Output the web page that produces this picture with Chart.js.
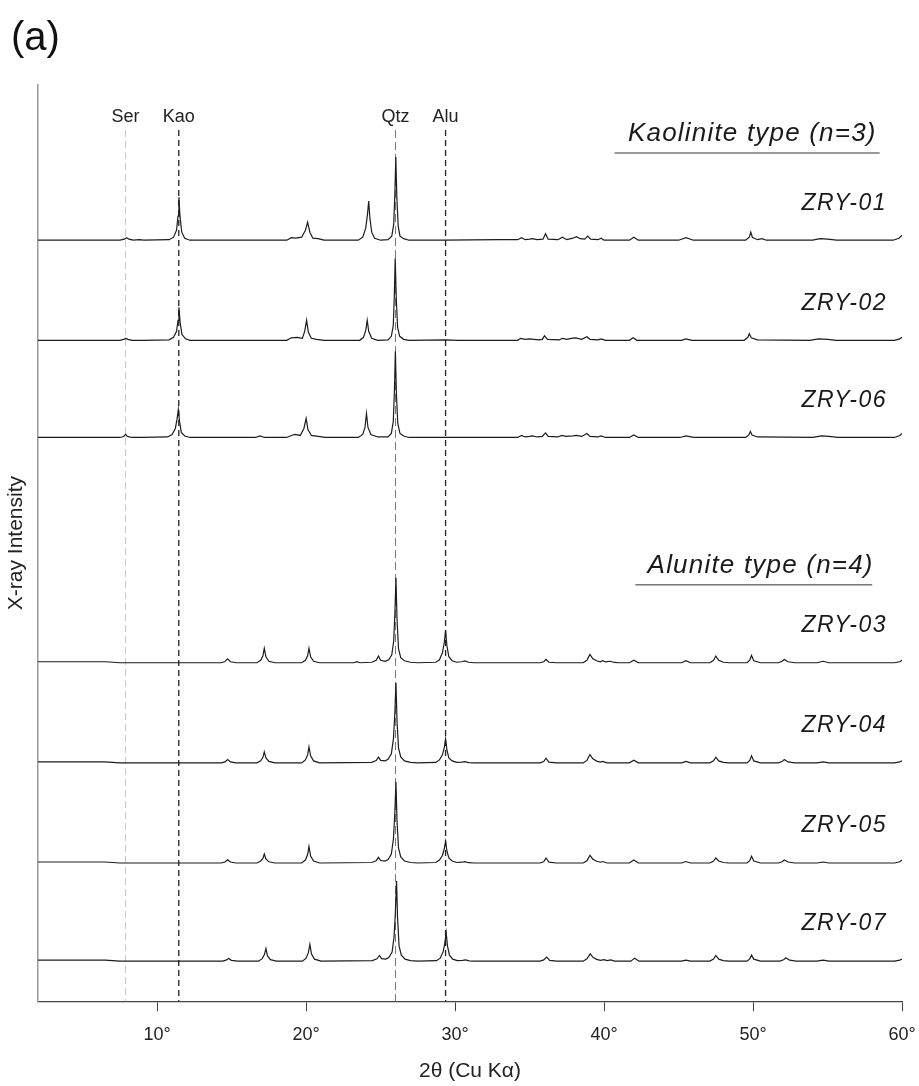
<!DOCTYPE html>
<html>
<head>
<meta charset="utf-8">
<title>XRD patterns</title>
<script src="https://cdn.jsdelivr.net/npm/chart.js@4.4.1/dist/chart.umd.min.js"></script>
<style>
  html, body { margin: 0; padding: 0; background: #fff; }
  #wrap { width: 919px; height: 1086px; position: relative; }
</style>
</head>
<body>
<div id="wrap"><canvas id="xrdChart"></canvas></div>
<script>
// 2θ tick labels (degrees)
const xTicks = [10, 20, 30, 40, 50, 60];

// mineral reference lines: name, 2θ
const refNames = ['Ser', 'Kao', 'Qtz', 'Alu'];
const refAngles = [7.88, 11.45, 26.0, 29.36];

// sample names, top to bottom
const kaoSamples = ['ZRY-01', 'ZRY-02', 'ZRY-06'];
const aluSamples = ['ZRY-03', 'ZRY-04', 'ZRY-05', 'ZRY-07'];

// diffractograms: [2θ, intensity above background] (arb. units)
const zry01 = [
  [2, 0], [7.5, 0], [7.8, 1], [7.95, 2.5], [8.1, 1], [8.4, 0], [8.8, 0.6], [9.1, 0],
  [10.8, 0.5], [11.1, 3], [11.3, 10], [11.4, 24], [11.46, 43], [11.53, 24], [11.65, 8], [11.85, 2], [12.2, 0],
  [18.7, 0], [19.0, 2.5], [19.3, 2], [19.7, 3], [19.95, 10], [20.1, 18], [20.25, 8], [20.45, 2], [20.8, 1.5], [21.2, 0],
  [23.5, 0], [23.8, 3], [24.0, 12], [24.12, 26], [24.2, 39], [24.28, 22], [24.4, 8], [24.6, 2], [25.0, 0],
  [25.5, 0.5], [25.75, 4], [25.88, 16], [25.96, 48], [26.02, 83], [26.09, 42], [26.18, 14], [26.3, 4], [26.55, 1.5], [26.9, 0],
  [29.3, 0], [33.0, 0.5], [34.2, 0.5], [34.46, 2.5], [34.7, 0.5], [35.0, 1], [35.2, 1.5], [35.5, 0.5], [35.9, 1],
  [36.07, 6.5], [36.25, 1], [36.9, 0.5], [37.2, 3], [37.5, 0.5], [37.9, 2], [38.15, 3.5], [38.4, 1.5], [38.7, 1],
  [38.9, 4], [39.1, 1], [39.6, 0.5], [39.8, 2], [40.0, 0], [41.7, 0], [42.0, 3], [42.3, 0], [45.0, 0], [45.5, 2.5],
  [46.0, 0], [49.5, 0], [49.75, 3], [49.85, 8], [49.95, 3], [50.3, 0.5], [50.6, 1.5], [50.9, 0], [54.0, 0],
  [54.5, 1.5], [55.0, 1], [55.6, 0], [59.4, 0], [59.8, 2], [60, 5]
];
const zry02 = [
  [2, 0], [7.5, 0], [7.75, 1], [7.9, 2], [8.05, 1], [8.3, 0], [9, 0],
  [10.8, 0.5], [11.1, 3], [11.3, 9], [11.4, 20], [11.46, 33], [11.54, 18], [11.66, 6], [11.9, 1.5], [12.2, 0],
  [18.7, 0], [19.0, 2.5], [19.4, 3], [19.75, 2], [19.9, 9], [20.03, 20], [20.15, 8], [20.35, 2], [20.7, 1], [21.2, 0],
  [23.6, 0], [23.85, 3], [24.0, 10], [24.1, 20], [24.2, 9], [24.4, 2], [24.8, 0],
  [25.5, 0.5], [25.72, 4], [25.85, 15], [25.92, 45], [25.98, 82], [26.05, 42], [26.14, 13], [26.28, 4], [26.55, 1], [26.9, 0],
  [29.36, 0.5], [30.2, 0], [34.2, 0], [34.4, 2], [34.7, 1], [35.0, 1.5], [35.3, 1], [35.6, 0.5], [35.85, 1],
  [36.0, 4.5], [36.2, 1], [37.0, 0.5], [37.2, 2], [37.5, 1], [37.8, 2], [38.1, 2.5], [38.5, 1], [38.85, 3.5],
  [39.05, 1], [39.6, 0.5], [39.8, 1.5], [40.1, 0], [41.7, 0], [41.95, 2.5], [42.2, 0], [45.2, 0], [45.5, 1.5],
  [45.9, 0], [49.4, 0], [49.65, 3], [49.75, 6.5], [49.88, 2.5], [50.3, 0.5], [53.8, 0], [54.4, 1.5], [55.0, 1],
  [55.6, 0], [59.5, 0], [59.85, 1.5], [60, 3]
];
const zry06 = [
  [2, 0], [7.5, 0], [7.75, 1], [7.88, 3], [8.0, 1], [8.3, 0], [9, 0],
  [10.7, 0.5], [11.0, 3], [11.22, 9], [11.33, 18], [11.42, 28], [11.5, 16], [11.62, 5], [11.85, 1.5], [12.2, 0],
  [16.6, 0], [16.9, 1.5], [17.2, 0], [18.7, 0], [19.0, 2], [19.25, 3], [19.6, 2], [19.85, 9], [20.0, 19], [20.12, 8],
  [20.35, 2], [20.8, 1], [21.3, 0],
  [23.5, 0], [23.8, 3], [23.95, 10], [24.05, 24], [24.15, 10], [24.35, 3], [24.8, 0.5],
  [25.5, 0.5], [25.72, 4], [25.85, 16], [25.93, 48], [25.99, 86], [26.06, 44], [26.15, 14], [26.3, 4], [26.55, 1.5], [26.9, 0],
  [30, 0], [34.2, 0], [34.46, 2], [34.7, 0.5], [35.0, 1], [35.2, 1.5], [35.5, 0.5], [35.85, 1], [36.07, 4.5],
  [36.25, 1], [36.9, 0.5], [37.15, 2], [37.45, 1], [37.9, 1.5], [38.15, 2], [38.5, 1], [38.85, 4], [39.05, 1],
  [39.6, 0.5], [39.8, 1.5], [40.1, 0], [41.7, 0], [42.0, 2.5], [42.3, 0], [45.1, 0], [45.5, 1.5], [46.0, 0],
  [49.5, 0], [49.72, 2.5], [49.82, 6], [49.93, 2.5], [50.3, 0.5], [54.0, 0], [54.6, 1.5], [55.1, 1], [55.7, 0],
  [59.5, 0], [59.85, 2], [60, 4]
];
const zry03 = [
  [2, 1], [6.5, 1], [7.5, 0], [14.3, 0], [14.55, 1.2], [14.73, 4], [14.92, 1], [15.3, 0],
  [16.7, 0], [16.95, 2.5], [17.1, 7], [17.19, 14.5], [17.3, 6], [17.5, 1.5], [17.9, 0],
  [19.7, 0], [19.95, 2.5], [20.1, 7], [20.19, 14.5], [20.3, 6], [20.5, 1.5], [20.9, 0],
  [23.2, 0], [23.4, 1], [23.6, 0], [24.4, 0.5], [24.7, 2.5], [24.86, 6.7], [25.0, 2.5], [25.3, 1.5],
  [25.55, 3], [25.75, 8], [25.88, 22], [25.96, 50], [26.03, 85], [26.1, 44], [26.2, 14], [26.35, 5], [26.6, 2], [27.0, 0.5], [27.5, 0],
  [28.7, 0.5], [28.95, 3], [29.15, 10], [29.27, 20], [29.36, 32], [29.45, 17], [29.58, 6], [29.8, 2], [30.1, 0.5],
  [30.45, 1], [30.66, 1.8], [30.9, 0.5], [31.3, 0],
  [35.7, 0], [35.95, 1], [36.1, 3.3], [36.3, 0.5], [36.8, 0], [38.6, 0], [38.85, 2.5], [39.05, 8.3], [39.25, 4],
  [39.5, 2], [39.75, 1], [39.9, 2], [40.1, 0.8], [40.4, 1.5], [40.7, 0.3], [41.0, 0], [41.7, 0], [42.0, 2.5],
  [42.3, 0], [45.2, 0], [45.5, 2], [45.8, 0], [47.1, 0], [47.35, 2.5], [47.5, 6.7], [47.7, 2.5], [48.0, 0.5],
  [48.4, 0], [49.6, 0], [49.78, 2.5], [49.9, 7.3], [50.05, 2], [50.5, 0], [51.7, 0], [51.95, 1.5], [52.1, 3.3],
  [52.35, 1], [52.8, 0], [54.3, 0], [54.7, 1.5], [55.1, 0], [59.5, 0], [59.85, 1], [60, 2.5]
];
const zry04 = [
  [2, 1], [6.5, 1], [7.5, 0], [14.3, 0], [14.55, 1], [14.73, 3.3], [14.92, 1], [15.3, 0],
  [16.7, 0], [16.95, 2], [17.1, 5.5], [17.19, 11], [17.3, 5], [17.5, 1.5], [17.9, 0],
  [19.7, 0], [19.95, 3], [20.1, 8], [20.19, 16], [20.3, 7], [20.5, 2], [20.9, 0],
  [24.4, 0.5], [24.7, 2.3], [24.86, 5.7], [25.0, 2.5], [25.3, 2],
  [25.5, 3.5], [25.72, 9], [25.86, 24], [25.95, 48], [26.03, 80], [26.1, 42], [26.2, 15], [26.35, 6], [26.6, 2], [27.0, 0.5], [27.5, 0],
  [28.7, 0.5], [28.95, 3], [29.15, 8], [29.27, 15], [29.36, 24], [29.45, 13], [29.58, 5], [29.8, 2], [30.1, 0.5],
  [30.45, 0.8], [30.66, 1.3], [30.9, 0.3], [31.3, 0],
  [35.7, 0], [35.95, 1.3], [36.1, 4.7], [36.3, 0.8], [36.8, 0], [38.6, 0], [38.85, 2.5], [39.05, 8.3], [39.25, 4],
  [39.5, 1.8], [39.75, 0.8], [39.9, 1.5], [40.2, 0], [41.7, 0], [42.0, 2.7], [42.3, 0], [45.2, 0], [45.5, 1.5],
  [45.8, 0], [47.1, 0], [47.35, 2], [47.5, 5.7], [47.7, 2], [48.0, 0.5], [48.4, 0], [49.6, 0], [49.78, 2.5],
  [49.9, 7], [50.05, 2], [50.5, 0], [51.7, 0], [51.95, 1.3], [52.1, 3.3], [52.35, 1], [52.8, 0], [54.3, 0],
  [54.7, 1], [55.1, 0], [59.5, 0], [59.85, 1], [60, 2]
];
const zry05 = [
  [2, 1], [6.5, 1], [7.5, 0], [14.3, 0], [14.55, 1], [14.73, 3.3], [14.92, 1], [15.3, 0],
  [16.7, 0], [16.95, 2], [17.1, 4.5], [17.19, 9], [17.3, 4], [17.5, 1.2], [17.9, 0],
  [19.7, 0], [19.95, 3], [20.1, 8.5], [20.19, 16.7], [20.3, 7], [20.5, 2], [20.9, 0],
  [24.4, 0.5], [24.7, 2.3], [24.86, 5.7], [25.0, 2.5], [25.3, 2],
  [25.5, 3.5], [25.72, 9], [25.86, 24], [25.95, 49], [26.03, 81], [26.1, 42], [26.2, 15], [26.35, 6], [26.6, 2], [27.0, 0.5], [27.5, 0],
  [28.7, 0.5], [28.95, 3], [29.15, 7.5], [29.27, 14], [29.36, 21.7], [29.45, 12], [29.58, 5], [29.8, 2], [30.1, 0.5],
  [30.45, 0.8], [30.66, 1.3], [30.9, 0.3], [31.3, 0],
  [35.7, 0], [35.95, 1.3], [36.1, 5], [36.3, 0.8], [36.8, 0], [38.6, 0], [38.85, 2.3], [39.05, 7.7], [39.25, 3.8],
  [39.5, 1.8], [39.75, 0.8], [39.9, 1.5], [40.2, 0], [41.7, 0], [42.0, 3], [42.3, 0], [45.2, 0], [45.5, 1.5],
  [45.8, 0], [47.1, 0], [47.35, 2], [47.5, 5], [47.7, 2], [48.0, 0.5], [48.4, 0], [49.6, 0], [49.78, 2.3],
  [49.9, 6.7], [50.05, 2], [50.5, 0], [51.7, 0], [51.95, 1.2], [52.1, 3], [52.35, 1], [52.8, 0], [54.3, 0],
  [54.7, 1], [55.1, 0], [59.5, 0], [59.85, 1.2], [60, 3]
];
const zry07 = [
  [2, 1], [6.5, 1], [7.5, 0], [14.4, 0], [14.62, 1], [14.8, 2.7], [14.98, 0.8], [15.4, 0],
  [16.8, 0], [17.05, 2.5], [17.2, 6.5], [17.3, 12.7], [17.4, 5.5], [17.6, 1.5], [18.0, 0],
  [19.75, 0], [20.0, 3], [20.15, 8.5], [20.25, 16.7], [20.36, 7], [20.56, 2], [21.0, 0],
  [24.45, 0.5], [24.75, 2.3], [24.92, 5.7], [25.06, 2.5], [25.35, 2],
  [25.55, 3.5], [25.77, 9], [25.9, 24], [25.99, 48], [26.07, 80], [26.14, 42], [26.24, 15], [26.39, 6], [26.64, 2], [27.0, 0.5], [27.5, 0],
  [28.75, 0.5], [29.0, 3], [29.2, 9.5], [29.31, 18], [29.4, 28.3], [29.49, 15], [29.62, 6], [29.84, 2], [30.15, 0.5],
  [30.5, 0.8], [30.7, 1.3], [30.95, 0.3], [31.3, 0],
  [35.7, 0], [35.95, 1.2], [36.15, 4], [36.35, 0.8], [36.8, 0], [38.6, 0], [38.85, 2.3], [39.07, 7.3], [39.27, 3.6],
  [39.5, 1.8], [39.75, 0.8], [40.0, 1.5], [40.2, 0.5], [40.45, 1.2], [40.7, 0], [41.8, 0], [42.05, 3], [42.35, 0],
  [45.2, 0], [45.5, 1], [45.8, 0], [47.1, 0], [47.35, 2], [47.5, 5.7], [47.7, 2], [48.0, 0.5], [48.4, 0],
  [49.6, 0], [49.78, 2.2], [49.9, 6], [50.05, 2], [50.5, 0], [51.8, 0], [52.05, 1.3], [52.2, 3.3], [52.45, 1],
  [52.9, 0], [54.3, 0], [54.7, 1], [55.1, 0], [59.5, 0], [59.85, 1], [60, 2]
];

const patterns = {
  'ZRY-01': zry01, 'ZRY-02': zry02, 'ZRY-06': zry06,
  'ZRY-03': zry03, 'ZRY-04': zry04, 'ZRY-05': zry05, 'ZRY-07': zry07
};

// vertical stacking of the traces (y units)
const traceOffsets = {
  'ZRY-01': 760, 'ZRY-02': 660, 'ZRY-06': 563,
  'ZRY-03': 338, 'ZRY-04': 238, 'ZRY-05': 138, 'ZRY-07': 40
};

const FONT = '"Liberation Sans", Arial, sans-serif';
const yTop = 915;
const refLineTop = 870;
const nameLift = 37;

const datasets = kaoSamples.concat(aluSamples).map(name => ({
  label: name,
  data: patterns[name].map(p => ({ x: p[0], y: p[1] + traceOffsets[name] })),
  borderColor: '#1c1c1c',
  borderWidth: 1.2,
  pointRadius: 0,
  tension: 0,
  fill: false
}));

// dashed mineral lines, sample names and group headings
const annotations = {
  id: 'annotations',
  beforeDatasetsDraw(chart) {
    const { ctx, scales: { x, y }, chartArea } = chart;
    const styles = {
      Ser: { color: '#c4c4c4', dash: [7, 4], width: 1 },
      Kao: { color: '#222', dash: [6, 4], width: 1.3 },
      Qtz: { color: '#777', dash: [8, 4], width: 1 },
      Alu: { color: '#222', dash: [6, 4], width: 1.3 }
    };
    ctx.save();
    refNames.forEach((name, i) => {
      const px = x.getPixelForValue(refAngles[i]);
      const s = styles[name];
      ctx.strokeStyle = s.color;
      ctx.lineWidth = s.width;
      ctx.setLineDash(s.dash);
      ctx.beginPath();
      ctx.moveTo(px, y.getPixelForValue(refLineTop));
      ctx.lineTo(px, chartArea.bottom);
      ctx.stroke();
    });
    ctx.setLineDash([]);
    ctx.fillStyle = '#222';
    ctx.font = '18px ' + FONT;
    ctx.textAlign = 'center';
    ctx.textBaseline = 'middle';
    refNames.forEach((name, i) => {
      ctx.fillText(name, x.getPixelForValue(refAngles[i]), y.getPixelForValue(refLineTop + 13));
    });
    ctx.restore();
  },
  afterDraw(chart) {
    const { ctx, scales: { x, y } } = chart;
    ctx.save();
    ctx.fillStyle = '#1a1a1a';
    ctx.textAlign = 'right';
    ctx.textBaseline = 'middle';
    ctx.font = 'italic 23px ' + FONT;
    ctx.letterSpacing = '1.5px';
    kaoSamples.concat(aluSamples).forEach(name => {
      ctx.fillText(name, x.getPixelForValue(59), y.getPixelForValue(traceOffsets[name] + nameLift));
    });

    const headings = [
      { text: 'Kaolinite type (n=3)', right: 58.3, y: 866, from: 40.7, to: 58.5 },
      { text: 'Alunite type (n=4)', right: 58.1, y: 435, from: 42.1, to: 58.0 }
    ];
    ctx.font = 'italic 26px ' + FONT;
    ctx.letterSpacing = '1.2px';
    headings.forEach(h => {
      ctx.fillStyle = '#1a1a1a';
      ctx.fillText(h.text, x.getPixelForValue(h.right), y.getPixelForValue(h.y));
      ctx.strokeStyle = '#777';
      ctx.lineWidth = 1.5;
      ctx.beginPath();
      const uy = y.getPixelForValue(h.y - 19);
      ctx.moveTo(x.getPixelForValue(h.from), uy);
      ctx.lineTo(x.getPixelForValue(h.to), uy);
      ctx.stroke();
    });

    // panel letter
    ctx.letterSpacing = '0px';
    ctx.textAlign = 'left';
    ctx.font = '40px ' + FONT;
    ctx.fillStyle = '#111';
    ctx.fillText('(a)', 11, 39);
    ctx.restore();
  }
};

const ctx = document.getElementById('xrdChart');
const xrdChart = new Chart(ctx, {
  type: 'line',
  data: { datasets: datasets },
  options: {
    responsive: true,
    maintainAspectRatio: false,
    animation: false,
    layout: { padding: { top: 85, right: 17, left: 2, bottom: 0 } },
    plugins: {
      legend: { display: false },
      tooltip: { enabled: false }
    },
    scales: {
      x: {
        type: 'linear',
        min: 2,
        max: 60,
        afterBuildTicks: scale => {
          scale.ticks = xTicks.map(v => ({ value: v }));
        },
        afterFit: scale => {
          scale.paddingLeft = 0;
          scale.paddingRight = 0;
        },
        ticks: {
          callback: v => v + '°',
          color: '#222',
          padding: 13,
          maxRotation: 0,
          font: { family: FONT, size: 18 }
        },
        grid: { drawOnChartArea: false, tickLength: 10, color: '#444' },
        border: { color: '#444', width: 1.3 },
        title: {
          display: true,
          text: '2θ (Cu Kα)',
          color: '#222',
          font: { family: FONT, size: 21 },
          padding: { top: 0, bottom: 2 }
        }
      },
      y: {
        min: 0,
        max: yTop,
        afterFit: scale => {
          scale.width = 36;
        },
        ticks: { display: false },
        grid: { display: false },
        border: { color: '#999', width: 1.5 },
        title: {
          display: true,
          text: 'X-ray Intensity',
          color: '#222',
          font: { family: FONT, size: 21 },
          padding: { top: 2, bottom: 4 }
        }
      }
    }
  },
  plugins: [annotations]
});
</script>
</body>
</html>
